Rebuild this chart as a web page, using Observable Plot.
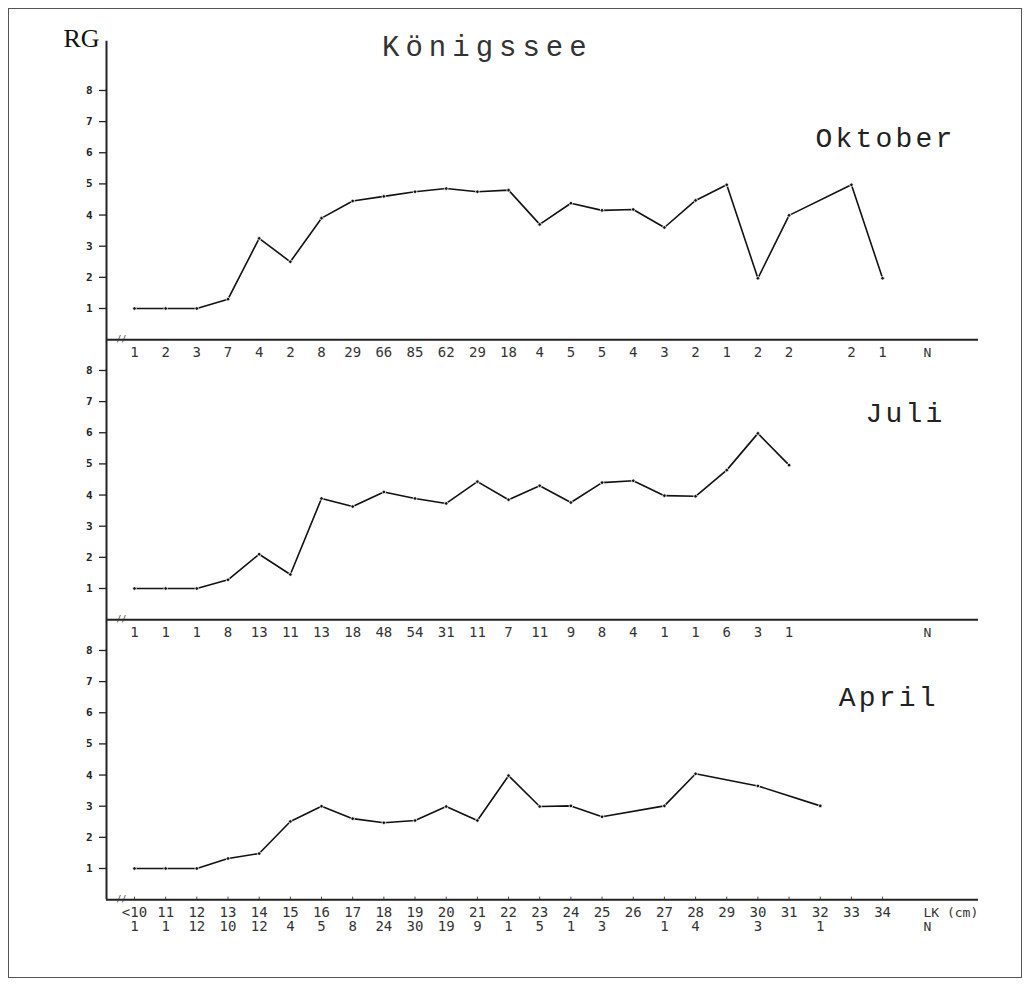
<!DOCTYPE html>
<html>
<head>
<meta charset="utf-8">
<script src="https://cdn.jsdelivr.net/npm/d3@7"></script>
<script src="https://cdn.jsdelivr.net/npm/@observablehq/plot@0.6"></script>
<style>
  html, body { margin: 0; padding: 0; background: #fff; }
  #wrap { position: relative; width: 1030px; height: 987px; }
  #border { position: absolute; left: 8px; top: 8px; width: 1012px; height: 968px; border: 1.5px solid #555; pointer-events: none; }
  #chart { position: absolute; left: 0; top: 0; }
</style>
</head>
<body>
<div id="wrap"><div id="chart"></div><div id="border"></div></div>
<script>
// ---- data ----
const lengths = [10,11,12,13,14,15,16,17,18,19,20,21,22,23,24,25,26,27,28,29,30,31,32,33,34];
const lengthLabels = ["<10","11","12","13","14","15","16","17","18","19","20","21","22","23","24","25","26","27","28","29","30","31","32","33","34"];
const months = ["Oktober", "Juli", "April"];

const rgOktober = [1,1,1,1.3,3.25,2.5,3.9,4.45,4.6,4.75,4.85,4.75,4.8,3.7,4.38,4.15,4.18,3.6,4.47,4.97,1.97,3.99,null,4.97,1.97];
const nOktober  = [1,2,3,7,4,2,8,29,66,85,62,29,18,4,5,5,4,3,2,1,2,2,null,2,1];

const rgJuli = [1,1,1,1.28,2.1,1.45,3.89,3.63,4.1,3.89,3.73,4.43,3.85,4.3,3.76,4.4,4.46,3.98,3.96,4.8,5.98,4.96,null,null,null];
const nJuli  = [1,1,1,8,13,11,13,18,48,54,31,11,7,11,9,8,4,1,1,6,3,1,null,null,null];

const rgApril = [1,1,1,1.32,1.48,2.51,3.0,2.6,2.47,2.54,2.99,2.54,3.98,2.99,3.01,2.66,null,3.01,4.04,null,3.65,null,3.01,null,null];
const nApril  = [1,1,12,10,12,4,5,8,24,30,19,9,1,5,1,3,null,1,4,null,3,null,1,null,null];

const title = "Königssee";
const yLabel = "RG";
const xLabel = "LK (cm)";
const nLabel = "N";
const yTicks = [1,2,3,4,5,6,7,8];

// ---- build tables ----
const series = {Oktober: [rgOktober, nOktober], Juli: [rgJuli, nJuli], April: [rgApril, nApril]};
const rows = [];
for (const m of months) {
  const [rg, n] = series[m];
  lengths.forEach((len, i) => rows.push({month: m, len, rg: rg[i], n: n[i], label: lengthLabels[i]}));
}
const pts = rows.filter(d => d.rg != null);
const nRows = rows.filter(d => d.n != null);

// ---- layout (positions only) ----
const monthLabelPos = {Oktober: {x: 31.85, y: 6.47}, Juli: {x: 33.45, y: 6.62}, April: {x: 32.59, y: 6.51}};
const axisTop = {Oktober: 9.58, Juli: 8.99, April: 8.99};
const xMin = 9.102, xMax = 37.077;
const rowY1 = -0.42, rowY2 = -0.87;
const nLabelX = 35.31;
const mono = "'Liberation Mono', 'Courier New', monospace";
const tickFont = "'DejaVu Sans Mono', monospace";

const monthRows = months.map(m => ({month: m, label: m, ...monthLabelPos[m], top: axisTop[m]}));
const aprilRows = rows.filter(d => d.month === "April");

const chart = Plot.plot({
  width: 1030,
  height: 987,
  marginLeft: 106,
  marginRight: 52,
  marginTop: 79.4,
  marginBottom: 66.1,
  style: {fontFamily: tickFont, background: "transparent", color: "#222"},
  x: {domain: [xMin, xMax], axis: null},
  y: {domain: [-0.67, 8.32], axis: null},
  fy: {domain: months, padding: 0, axis: null},
  marks: [
    // axis lines
    Plot.ruleX(monthRows, {x: xMin, y1: 0, y2: "top", fy: "month", stroke: "#222", strokeWidth: 2}),
    Plot.ruleY(monthRows, {y: 0, x1: xMin, x2: xMax, fy: "month", stroke: "#222", strokeWidth: 2}),
    Plot.text(monthRows, {x: 9.58, y: 0, fy: "month", text: () => "//", fontSize: 8, fill: "#333"}),
    // small category ticks on bottom axis
    Plot.ruleX(aprilRows, {x: "len", y1: 0, y2: 0.08, fy: "month", stroke: "#444", strokeWidth: 1}),
    // y axis
    Plot.axisY({ticks: yTicks, tickSize: 7, tickPadding: 7, label: null, fontSize: 11, fontWeight: "bold", fontFamily: tickFont, color: "#222", strokeWidth: 1.3}),
    // data lines
    Plot.line(pts, {x: "len", y: "rg", fy: "month", stroke: "#111", strokeWidth: 1.6}),
    Plot.dot(pts, {x: "len", y: "rg", fy: "month", r: 1.8, fill: "#111", stroke: "white", strokeWidth: 0.8}),
    // N rows
    Plot.text(nRows, {x: "len", y: d => d.month === "April" ? rowY2 : rowY1, fy: "month", text: "n", fontSize: 14, fill: "#333"}),
    Plot.text(monthRows, {x: nLabelX, y: d => d.month === "April" ? rowY2 : rowY1, fy: "month", text: () => nLabel, textAnchor: "start", fontSize: 13, fill: "#333"}),
    // length labels (bottom)
    Plot.text(aprilRows, {x: "len", y: rowY1, fy: "month", text: "label", fontSize: 14, fill: "#333"}),
    Plot.text([{month: "April"}], {x: nLabelX, y: rowY1, fy: "month", text: () => xLabel, textAnchor: "start", fontSize: 13, fill: "#333"}),
    // month labels
    Plot.text(monthRows, {x: "x", y: "y", fy: "month", text: "label", textAnchor: "start", fontFamily: mono, fontSize: 28, fill: "#222", className: "month-label"}),
    // title and y label
    Plot.text([{month: "Oktober"}], {x: 21.32, y: 9.39, fy: "month", text: () => title, fontFamily: mono, fontSize: 29, fill: "#333", className: "title-label"}),
    Plot.text([{month: "Oktober"}], {x: 8.30, y: 9.65, fy: "month", text: () => yLabel, fontFamily: "'Liberation Serif', serif", fontSize: 26, fill: "#111"})
  ]
});
chart.querySelectorAll(".month-label").forEach(g => g.setAttribute("letter-spacing", "3.2"));
chart.querySelectorAll(".title-label").forEach(g => g.setAttribute("letter-spacing", "6"));
document.getElementById("chart").appendChild(chart);
</script>
</body>
</html>
